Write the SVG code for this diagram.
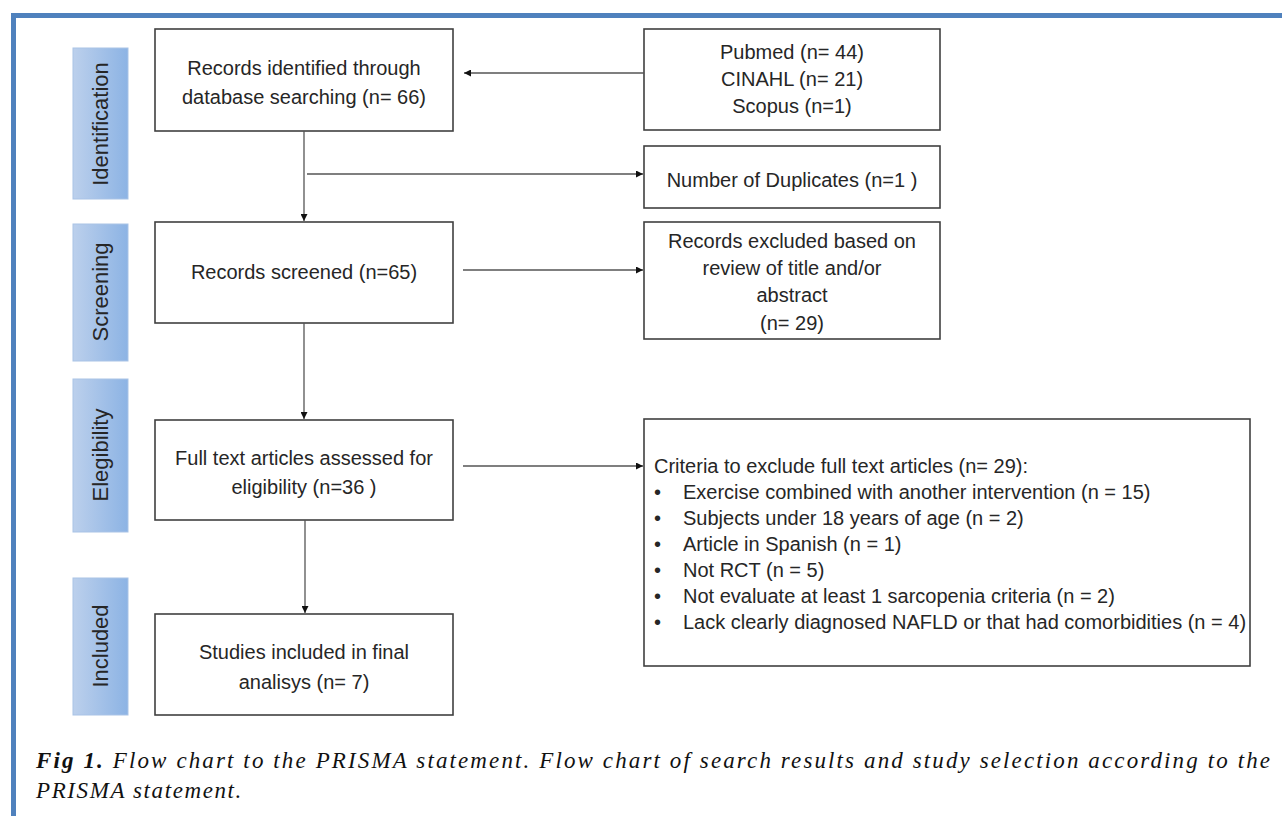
<svg xmlns="http://www.w3.org/2000/svg" width="1282" height="816" viewBox="0 0 1282 816">
<defs>
<linearGradient id="lab" x1="0" y1="0" x2="1" y2="0">
<stop offset="0" stop-color="#bcd0ec"/>
<stop offset="1" stop-color="#8cb3e4"/>
</linearGradient>
<marker id="ah" viewBox="0 0 10 10" refX="10" refY="5" markerWidth="7" markerHeight="7" markerUnits="userSpaceOnUse" orient="auto">
<path d="M0,0 L10,5 L0,10 z" fill="#111"/>
</marker>
<style>
.box{fill:#fff;stroke:#404040;stroke-width:1.6}
.lab{fill:url(#lab);stroke:#a9c3e6;stroke-width:1}
.t{font-family:"Liberation Sans",Arial,sans-serif;font-size:20px;fill:#262626}
.c{text-anchor:middle}
.lt{font-family:"Liberation Sans",Arial,sans-serif;font-size:22px;fill:#262626;text-anchor:middle}
.ln{stroke:#555;stroke-width:1.3;fill:none}
.cap{font-family:"Liberation Serif","Times New Roman",serif;font-size:23px;font-style:italic;fill:#111}
</style>
</defs>
<rect width="1282" height="816" fill="#fff"/>
<path d="M13.5,816 V15.5 H1282" fill="none" stroke="#4f81bd" stroke-width="5"/>

<g id="label-identification"><rect class="lab" x="73" y="48" width="55" height="151"/><text class="lt" transform="translate(108,124) rotate(-90)">Identification</text></g>
<g id="label-screening"><rect class="lab" x="73" y="224" width="55" height="137"/><text class="lt" transform="translate(108,292) rotate(-90)">Screening</text></g>
<g id="label-elegibility"><rect class="lab" x="73" y="379" width="55" height="153"/><text class="lt" transform="translate(108,455) rotate(-90)">Elegibility</text></g>
<g id="label-included"><rect class="lab" x="73" y="578" width="55" height="137"/><text class="lt" transform="translate(108,646) rotate(-90)">Included</text></g>

<g id="records-identified"><rect class="box" x="155" y="29" width="298" height="102"/>
<text class="t c" x="304" y="75">Records identified through</text>
<text class="t c" x="304" y="104">database searching (n= 66)</text></g>

<g id="sources"><rect class="box" x="644" y="29" width="296" height="101"/>
<text class="t c" x="792" y="59">Pubmed (n= 44)</text>
<text class="t c" x="792" y="86">CINAHL (n= 21)</text>
<text class="t c" x="792" y="113">Scopus (n=1)</text></g>

<g id="duplicates"><rect class="box" x="644" y="146" width="296" height="62"/>
<text class="t c" x="792" y="187">Number of Duplicates (n=1 )</text></g>

<g id="records-screened"><rect class="box" x="155" y="222" width="298" height="101"/>
<text class="t c" x="304" y="279">Records screened (n=65)</text></g>

<g id="records-excluded"><rect class="box" x="644" y="222" width="296" height="117"/>
<text class="t c" x="792" y="248">Records excluded based on</text>
<text class="t c" x="792" y="275">review of title and/or</text>
<text class="t c" x="792" y="302">abstract</text>
<text class="t c" x="792" y="330">(n= 29)</text></g>

<g id="full-text"><rect class="box" x="155" y="420" width="298" height="100"/>
<text class="t c" x="304" y="465">Full text articles assessed for</text>
<text class="t c" x="304" y="494">eligibility (n=36 )</text></g>

<g id="criteria"><rect class="box" x="644" y="419" width="606" height="247"/>
<text class="t" x="654" y="473">Criteria to exclude full text articles (n= 29):</text>
<g class="t">
<text x="654" y="499">•</text><text x="683" y="499">Exercise combined with another intervention (n = 15)</text>
<text x="654" y="525">•</text><text x="683" y="525">Subjects under 18 years of age (n = 2)</text>
<text x="654" y="551">•</text><text x="683" y="551">Article in Spanish (n = 1)</text>
<text x="654" y="577">•</text><text x="683" y="577">Not RCT (n = 5)</text>
<text x="654" y="603">•</text><text x="683" y="603">Not evaluate at least 1 sarcopenia criteria (n = 2)</text>
<text x="654" y="629">•</text><text x="683" y="629">Lack clearly diagnosed NAFLD or that had comorbidities (n = 4)</text>
</g></g>

<g id="studies-included"><rect class="box" x="155" y="614" width="298" height="101"/>
<text class="t c" x="304" y="659">Studies included in final</text>
<text class="t c" x="304" y="689">analisys (n= 7)</text></g>

<g id="connectors">
<path class="ln" d="M644,73 H464" marker-end="url(#ah)"/>
<path class="ln" d="M304,131 V221" marker-end="url(#ah)"/>
<path class="ln" d="M307,174 H643" marker-end="url(#ah)"/>
<path class="ln" d="M463,270 H643" marker-end="url(#ah)"/>
<path class="ln" d="M304,323 V419" marker-end="url(#ah)"/>
<path class="ln" d="M463,466 H643" marker-end="url(#ah)"/>
<path class="ln" d="M305,520 V613" marker-end="url(#ah)"/>
</g>

<g id="caption">
<text class="cap" x="36" y="768" textLength="1234" lengthAdjust="spacing"><tspan font-weight="bold">Fig 1.</tspan> Flow chart to the PRISMA statement. Flow chart of search results and study selection according to the</text>
<text class="cap" x="36" y="798" letter-spacing="1.6">PRISMA statement.</text>
</g>
</svg>
